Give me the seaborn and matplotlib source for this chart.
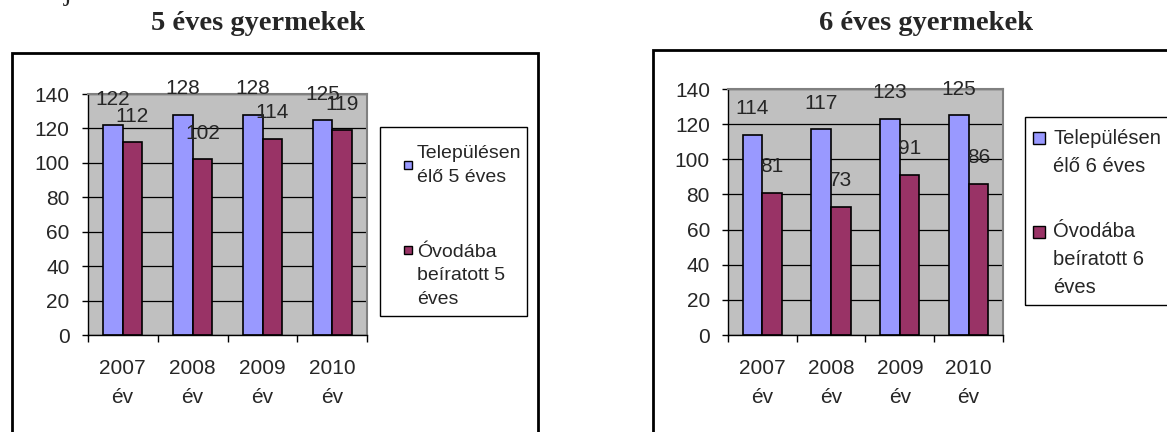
import seaborn as sns
import pandas as pd
import matplotlib.pyplot as plt
from matplotlib.patches import Rectangle
from matplotlib.lines import Line2D

evek = ['2007\név', '2008\név', '2009\név', '2010\név']

el5 = [122, 128, 128, 125]
ovi5 = [112, 102, 114, 119]
el6 = [114, 117, 123, 125]
ovi6 = [81, 73, 91, 86]

cim5 = '5 éves gyermekek'
cim6 = '6 éves gyermekek'
sor5 = ['Településen\nélő 5 éves', 'Óvodába\nbeíratott 5\néves']
sor6 = ['Településen\nélő 6 éves', 'Óvodába\nbeíratott 6\néves']

szinek = ['#9999FF', '#993366']

sns.set_theme(style="white")
plt.rcParams['font.family'] = ['Liberation Sans', 'DejaVu Sans']

W, H = 1167, 432
fig = plt.figure(figsize=(W / 100, H / 100), dpi=100)


def keret(x0, y0, x1, y1, lw):
    # doboz pixelben, felülről mérve
    fig.patches.append(Rectangle((x0 / W, 1 - y1 / H), (x1 - x0) / W,
                                 (y1 - y0) / H, transform=fig.transFigure,
                                 fill=False, edgecolor='black', linewidth=lw))


def rajzol(ax, elo, ovi, nevek, legend_hely, legend_meret, jel, htp,
           sorkoz, bejegyzes_koz, jel_emeles):
    df = pd.DataFrame({
        'ev': evek * 2,
        'db': elo + ovi,
        'sor': [nevek[0]] * 4 + [nevek[1]] * 4,
    })
    sns.barplot(data=df, x='ev', y='db', hue='sor', hue_order=nevek,
                palette=szinek, width=0.57, gap=0, saturation=1,
                edgecolor='black', linewidth=1.2, ax=ax, legend=False)
    ax.set_facecolor('#C0C0C0')
    ax.set_ylim(0, 140)
    ax.set_xlim(-0.5, 3.5)
    ax.set_yticks(range(0, 141, 20))
    ax.yaxis.grid(True, color='black', linewidth=0.9)
    ax.set_axisbelow(True)
    ax.set_xlabel('')
    ax.set_ylabel('')
    for s in ['top', 'right']:
        ax.spines[s].set_color('#808080')
        ax.spines[s].set_linewidth(1.5)
    for s in ['left', 'bottom']:
        ax.spines[s].set_color('black')
        ax.spines[s].set_linewidth(1.0)
    ax.set_xticks([-0.5, 0.5, 1.5, 2.5, 3.5], minor=True)
    ax.tick_params(axis='x', which='major', length=0, pad=17, labelsize=15)
    ax.tick_params(axis='x', which='minor', direction='out', length=5,
                   width=1, color='black', bottom=True)
    ax.tick_params(axis='y', direction='out', length=4, width=1,
                   color='black', left=True, pad=9, labelsize=15)
    for t in ax.get_xticklabels():
        t.set_linespacing(1.7)
    for c in ax.containers:
        for b in c:
            ax.text(b.get_x() + b.get_width() / 2, b.get_height() + 15,
                    f'{b.get_height():.0f}', ha='center', va='center',
                    fontsize=15, clip_on=False)
    h = [Line2D([], [], linestyle='none', marker='s', markersize=jel,
                markerfacecolor=sz, markeredgecolor='black',
                markeredgewidth=1.0) for sz in szinek]
    leg = ax.legend(h, nevek, loc='upper left',
                    bbox_to_anchor=(legend_hely[0] / W, 1 - legend_hely[1] / H),
                    bbox_transform=fig.transFigure, frameon=False,
                    fontsize=legend_meret, handlelength=0.6,
                    handletextpad=htp, labelspacing=bejegyzes_koz,
                    borderpad=0, borderaxespad=0)
    for t in leg.get_texts():
        t.set_linespacing(sorkoz)
    # a jelölő négyzetek az első sorhoz igazodnak, mint az Excelben
    for lh, d in zip(leg.legend_handles, jel_emeles):
        lh.set_ydata([v + d * 0.72 for v in lh.get_ydata()])


ax1 = fig.add_axes([0.075, 0.2245, 0.2399, 0.5579])
rajzol(ax1, el5, ovi5, sor5, (402, 145), 14, 6, 0.16, 1.5, 3.0, [0, 26])

ax2 = fig.add_axes([0.6238, 0.2245, 0.2356, 0.5694])
rajzol(ax2, el6, ovi6, sor6, (1033, 129), 14.5, 8.5, 0.4, 1.6, 2.3, [15, 28])

# keretek
keret(12, 53, 538, 480, 2)
keret(653, 50, 1200, 480, 2)
keret(380, 127, 527, 316, 1)
keret(1025, 117, 1200, 305, 1)

fig.text(258 / W, 1 - 24 / H, cim5, ha='center', va='center',
         fontsize=20.5, fontweight='bold', family='Liberation Serif')
fig.text(926 / W, 1 - 24 / H, cim6, ha='center', va='center',
         fontsize=20.5, fontweight='bold', family='Liberation Serif')
fig.text(64 / W, 1.0, 'j', ha='left', va='baseline',
         fontsize=20, family='Liberation Serif')

fig.savefig('out.png', dpi=100)
